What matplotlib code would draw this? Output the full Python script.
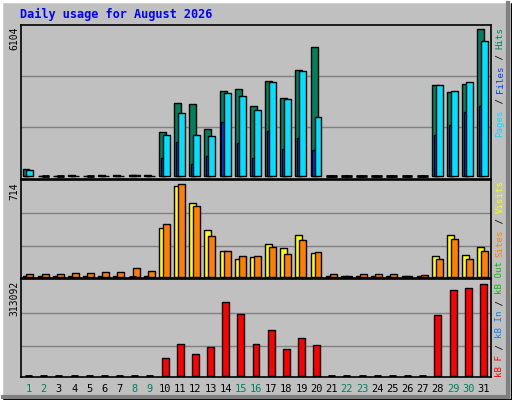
import matplotlib
matplotlib.use("Agg")
import matplotlib.pyplot as plt
from matplotlib.patches import Rectangle

days = list(range(1, 32))
weekend = [1, 2, 8, 9, 15, 16, 22, 23, 29, 30]

hits = [285, 20, 20, 40, 20, 40, 40, 60, 40, 1831, 3052, 2970, 1953, 3540, 3620, 2890,
        3947, 3255, 4395, 5371, 0, 0, 0, 0, 0, 0, 0, 3784, 3500, 3825, 6104]
files = [250, 0, 0, 20, 0, 20, 20, 40, 20, 1700, 2616, 1700, 1660, 3446, 3322, 2740,
         3903, 3197, 4360, 2450, 0, 0, 0, 0, 0, 0, 0, 3779, 3530, 3903, 5606]
pages = [20, 0, 0, 10, 0, 10, 10, 40, 10, 747, 1412, 500, 830, 2242, 1370, 747,
         1870, 1120, 1580, 1080, 0, 0, 0, 0, 0, 0, 0, 1700, 2118, 2657, 2907]
visits = [8, 8, 8, 8, 8, 8, 8, 0, 8, 373, 698, 567, 358, 196, 139, 149,
          250, 219, 319, 180, 8, 5, 8, 8, 8, 5, 8, 157, 319, 165, 227]
sites = [18, 18, 18, 26, 26, 33, 33, 64, 41, 404, 714, 543, 312, 196, 157, 157,
         227, 173, 281, 188, 18, 5, 18, 18, 18, 5, 13, 134, 289, 134, 196]
kbytes = [0, 0, 0, 0, 0, 0, 0, 0, 0, 59400, 107400, 73150, 97150, 251500, 210300, 107400,
          155400, 90300, 128000, 104000, 0, 0, 0, 0, 0, 0, 0, 206900, 292600, 299500, 313092]

GRAY = "#C0C0C0"
MONO = "DejaVu Sans Mono"

fig = plt.figure(figsize=(5.12, 4.0), dpi=100, facecolor=GRAY)

# 3D style frame
def line(x0, y0, x1, y1, c, lw=1.0):
    fig.add_artist(plt.Line2D([x0 / 512, x1 / 512], [1 - y0 / 400, 1 - y1 / 400],
                              color=c, lw=lw, transform=fig.transFigure))

line(1, 1, 511, 1, "white", 2.5)
line(1, 1, 1, 399, "white", 2.5)
line(508, 3, 508, 397, "#808080", 3)
line(3, 397, 508, 397, "#808080", 3)
fig.add_artist(Rectangle((0, 0), 1, 1, fill=False, ec="black", lw=1.5,
                         transform=fig.transFigure))

fig.text(20 / 512, 1 - 14 / 400, "Daily usage for August 2026", color="#0000FF",
         family=MONO, weight="bold", fontsize=8.6, va="center", ha="left")


def panel(ytop, ybot, base, top, g1, g2, vmax):
    ax = fig.add_axes([21 / 512, 1 - ybot / 400, 470 / 512, (ybot - ytop) / 400])
    ax.set_facecolor(GRAY)
    scale = vmax / (base - top)
    ax.set_ylim(-(ybot - base) * scale, (base - ytop) * scale)
    ax.set_xlim(0.5, 31.5)
    for g in (g1, g2):
        ax.axhline((base - g) * scale, color="#808080", lw=1, zorder=0)
    ax.set_xticks([])
    ax.set_yticks([])
    for s in ax.spines.values():
        s.set_color("black")
        s.set_linewidth(1.2)
    ax.text(-7 / 470, 1 - 2 / (ybot - ytop), f"{vmax}", rotation=90, family=MONO,
            fontsize=7, ha="center", va="top", transform=ax.transAxes)
    return ax


ax1 = panel(25, 179, 176, 29, 127, 76, 6104)
ax2 = panel(180, 278, 276.7, 184.3, 246.3, 213.3, 714)
ax3 = panel(279, 377, 375.7, 284.3, 346, 313.3, 313092)

w = 0.46
kw = dict(edgecolor="black", linewidth=1, align="edge")


def bars(ax, offset, vals, width, color):
    ax.bar([d + offset for d in days], vals, width, color=color, **kw)
    zero = [d for d, v in zip(days, vals) if v == 0]
    ax.hlines([0] * len(zero), [d + offset for d in zero],
              [d + offset + width for d in zero], color="black", lw=2, zorder=3)


bars(ax1, -0.4, hits, w, "#00805C")
ax1.bar([d - 0.28 for d in days], pages, 0.2, color="#0040FF", **kw)
bars(ax1, -0.14, files, w, "#00E0FF")
bars(ax2, -0.4, visits, w, "#FFFF00")
bars(ax2, -0.14, sites, w, "#FF8000")
bars(ax3, -0.23, kbytes, w, "#FF0000")

for d in days:
    fig.text((21 + (d - 0.5) * 470 / 31) / 512, 1 - 389 / 400, str(d),
             color="#008060" if d in weekend else "black",
             family=MONO, fontsize=7.5, ha="center", va="center")

# rotated multi-colour legends on the right
LFS = 6.6
step = 0.602 * LFS * 100 / 72


def legend(ystart, parts):
    y = ystart
    for txt, c in parts:
        fig.text(500 / 512, 1 - y / 400, txt, color=c, family=MONO, fontsize=LFS,
                 rotation=90, rotation_mode="anchor", ha="left", va="center")
        y -= step * len(txt)


legend(137, [("Pages", "#00E0FF"), (" / ", "black"), ("Files", "#0040FF"),
             (" / ", "black"), ("Hits", "#00805C")])
legend(257, [("Sites", "#FF8000"), (" / ", "black"), ("Visits", "#FFFF00")])
legend(377, [("kB F", "#FF0000"), (" / ", "black"), ("kB In", "#0080FF"),
             (" / ", "black"), ("kB Out", "#00C000")])

fig.savefig("out.png", dpi=100, facecolor=GRAY)
